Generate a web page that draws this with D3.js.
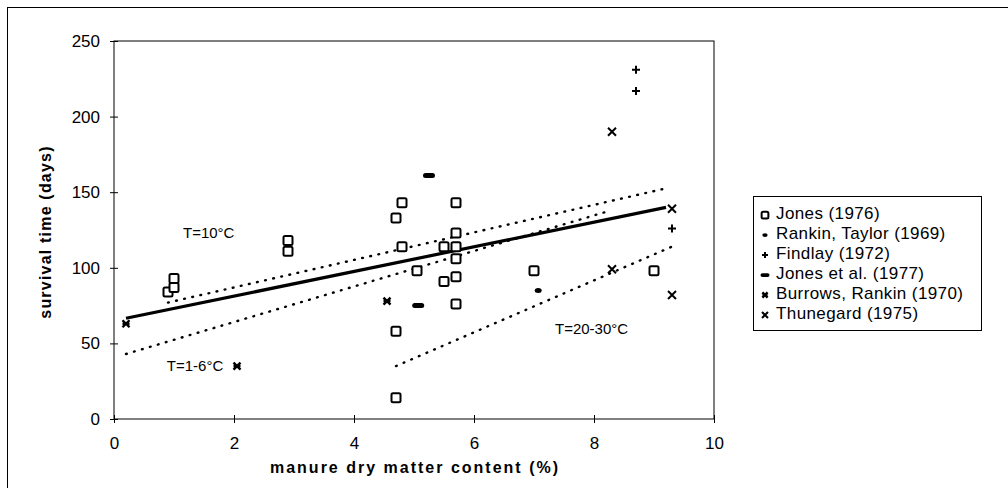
<!DOCTYPE html>
<html>
<head>
<meta charset="utf-8">
<script src="https://cdn.jsdelivr.net/npm/d3@7"></script>
<style>
  body { margin: 0; background: #fff; }
  text { font-family: "Liberation Sans", Arial, sans-serif; fill: #000; }
</style>
</head>
<body>
<div id="container"></div>
<script>
let width = 1008;
let height = 488;

// data: [dry matter %, survival days]
var jones1976 = [[0.9, 84], [1.0, 87], [1.0, 93], [2.9, 111], [2.9, 118],
  [4.7, 133], [4.8, 143], [4.8, 114], [4.7, 58], [4.7, 14], [5.05, 98],
  [5.5, 114], [5.5, 91], [5.7, 143], [5.7, 123], [5.7, 114], [5.7, 106],
  [5.7, 94], [5.7, 76], [7.0, 98], [9.0, 98]];
var rankinTaylor = [[7.07, 85]];
var findlay = [[8.7, 231], [8.7, 217], [9.3, 126]];
var jonesEtAl = [[5.25, 161], [5.07, 75]];
var burrowsRankin = [[0.2, 63], [2.05, 35], [4.55, 78]];
var thunegard = [[8.3, 190], [8.3, 99], [9.3, 139], [9.3, 82]];

// trend lines (end points)
var trendAll = [[0.2, 66.6], [9.2, 140]];
var trend10 = [[0.9, 77], [9.25, 153]];
var trend1to6 = [[0.2, 43], [8.2, 137]];
var trend20to30 = [[4.7, 35], [9.3, 114]];

var xTicks = [0, 2, 4, 6, 8, 10];
var yTicks = [0, 50, 100, 150, 200, 250];

var legendNames = ["Jones (1976)", "Rankin, Taylor (1969)", "Findlay (1972)",
  "Jones et al. (1977)", "Burrows, Rankin (1970)", "Thunegard (1975)"];
var markerKinds = ["square", "dot", "plus", "dash", "xbold", "x"];

let svg = d3.select("#container").append("svg")
  .attr("width", width)
  .attr("height", height);

// outer frame (only top and left edges are visible)
svg.append("rect")
  .attr("x", 7.5).attr("y", 7.5)
  .attr("width", 1100).attr("height", 600)
  .attr("fill", "none").attr("stroke", "#000").attr("stroke-width", 1);

let x = d3.scaleLinear().domain([0, 10]).range([114, 714]);
let y = d3.scaleLinear().domain([0, 250]).range([419, 41]);

// plot box
svg.append("rect")
  .attr("x", 114).attr("y", 41)
  .attr("width", 600).attr("height", 378)
  .attr("fill", "none").attr("stroke", "#000").attr("stroke-width", 1);

let xAxis = svg.append("g")
  .attr("transform", "translate(0,419)")
  .call(d3.axisBottom(x).tickValues(xTicks).tickSize(4).tickPadding(14).tickFormat(d3.format("d")));
xAxis.selectAll(".tick line").attr("y1", -4);
xAxis.select(".domain").remove();
xAxis.selectAll("text").style("font-size", "17px");

let yAxis = svg.append("g")
  .attr("transform", "translate(114,0)")
  .call(d3.axisLeft(y).tickValues(yTicks).tickSize(4).tickPadding(10));
yAxis.selectAll(".tick line").attr("x1", 4).attr("x2", -4);
yAxis.select(".domain").remove();
yAxis.selectAll("text").style("font-size", "17px");

svg.append("text")
  .attr("x", 415).attr("y", 473)
  .attr("text-anchor", "middle")
  .style("font-size", "16px").style("font-weight", "bold")
  .style("letter-spacing", "2px")
  .text("manure dry matter content (%)");

svg.append("text")
  .attr("transform", "translate(51,232) rotate(-90)")
  .attr("text-anchor", "middle")
  .style("font-size", "16px").style("font-weight", "bold")
  .style("letter-spacing", "1.2px")
  .text("survival time (days)");

let line = d3.line().x(function(d) { return x(d[0]); }).y(function(d) { return y(d[1]); });

let plot = svg.append("g");

[trend10, trend1to6, trend20to30].forEach(function(t) {
  plot.append("path")
    .attr("d", line(t))
    .attr("fill", "none")
    .attr("stroke", "#000")
    .attr("stroke-width", 2.4)
    .attr("stroke-linecap", "round")
    .attr("stroke-dasharray", "0.8,7.5");
});

plot.append("path")
  .attr("d", line(trendAll))
  .attr("fill", "none")
  .attr("stroke", "#000")
  .attr("stroke-width", 3.2);

// draw one marker of a given kind at (cx, cy)
function drawMarker(g, kind, cx, cy, small) {
  let k = small ? 0.75 : 1;
  if (kind == "square") {
    g.append("rect")
      .attr("x", cx - 4.5 * k).attr("y", cy - 4.5 * k)
      .attr("width", 9 * k).attr("height", 9 * k)
      .attr("rx", 1.5)
      .attr("fill", "#fff").attr("stroke", "#000").attr("stroke-width", 2);
  } else if (kind == "dot") {
    g.append("ellipse")
      .attr("cx", cx).attr("cy", cy)
      .attr("rx", 3.5 * k).attr("ry", 2.5 * k)
      .attr("fill", "#000");
  } else if (kind == "plus") {
    let s = 4 * k;
    g.append("path")
      .attr("d", "M" + (cx - s) + "," + cy + "H" + (cx + s) + "M" + cx + "," + (cy - s) + "V" + (cy + s))
      .attr("stroke", "#000").attr("stroke-width", 2);
  } else if (kind == "dash") {
    g.append("rect")
      .attr("x", cx - 6 * k).attr("y", cy - 2.5 * k)
      .attr("width", 12 * k).attr("height", 5 * k)
      .attr("rx", 2.5 * k)
      .attr("fill", "#000");
  } else if (kind == "xbold") {
    let s = 3.5 * k;
    g.append("path")
      .attr("d", "M" + (cx - s) + "," + (cy - s) + "L" + (cx + s) + "," + (cy + s) +
        "M" + (cx - s) + "," + (cy + s) + "L" + (cx + s) + "," + (cy - s) +
        "M" + (cx - s) + "," + cy + "H" + (cx + s))
      .attr("stroke", "#000").attr("stroke-width", 2.4);
  } else {
    let s = 4 * k;
    g.append("path")
      .attr("d", "M" + (cx - s) + "," + (cy - s) + "L" + (cx + s) + "," + (cy + s) +
        "M" + (cx - s) + "," + (cy + s) + "L" + (cx + s) + "," + (cy - s))
      .attr("stroke", "#000").attr("stroke-width", 2);
  }
}

var seriesData = [jones1976, rankinTaylor, findlay, jonesEtAl, burrowsRankin, thunegard];
seriesData.forEach(function(pts, i) {
  pts.forEach(function(d) {
    drawMarker(plot, markerKinds[i], x(d[0]), y(d[1]), false);
  });
});

// annotations
svg.append("text").attr("x", x(1.15)).attr("y", y(119.5)).style("font-size", "15px").text("T=10°C");
svg.append("text").attr("x", x(0.88)).attr("y", y(31.5)).style("font-size", "15px").text("T=1-6°C");
svg.append("text").attr("x", x(7.35)).attr("y", y(56)).style("font-size", "15px").text("T=20-30°C");

// legend
let legend = svg.append("g");
legend.append("rect")
  .attr("x", 753.5).attr("y", 196.5)
  .attr("width", 228).attr("height", 134)
  .attr("fill", "#fff").attr("stroke", "#000").attr("stroke-width", 1);

legendNames.forEach(function(name, i) {
  let ly = 213 + i * 20;
  drawMarker(legend, markerKinds[i], 765, ly + 2, true);
  legend.append("text")
    .attr("x", 776).attr("y", ly + 6)
    .style("font-size", "17px")
    .style("letter-spacing", "0.4px")
    .text(name);
});
</script>
</body>
</html>
